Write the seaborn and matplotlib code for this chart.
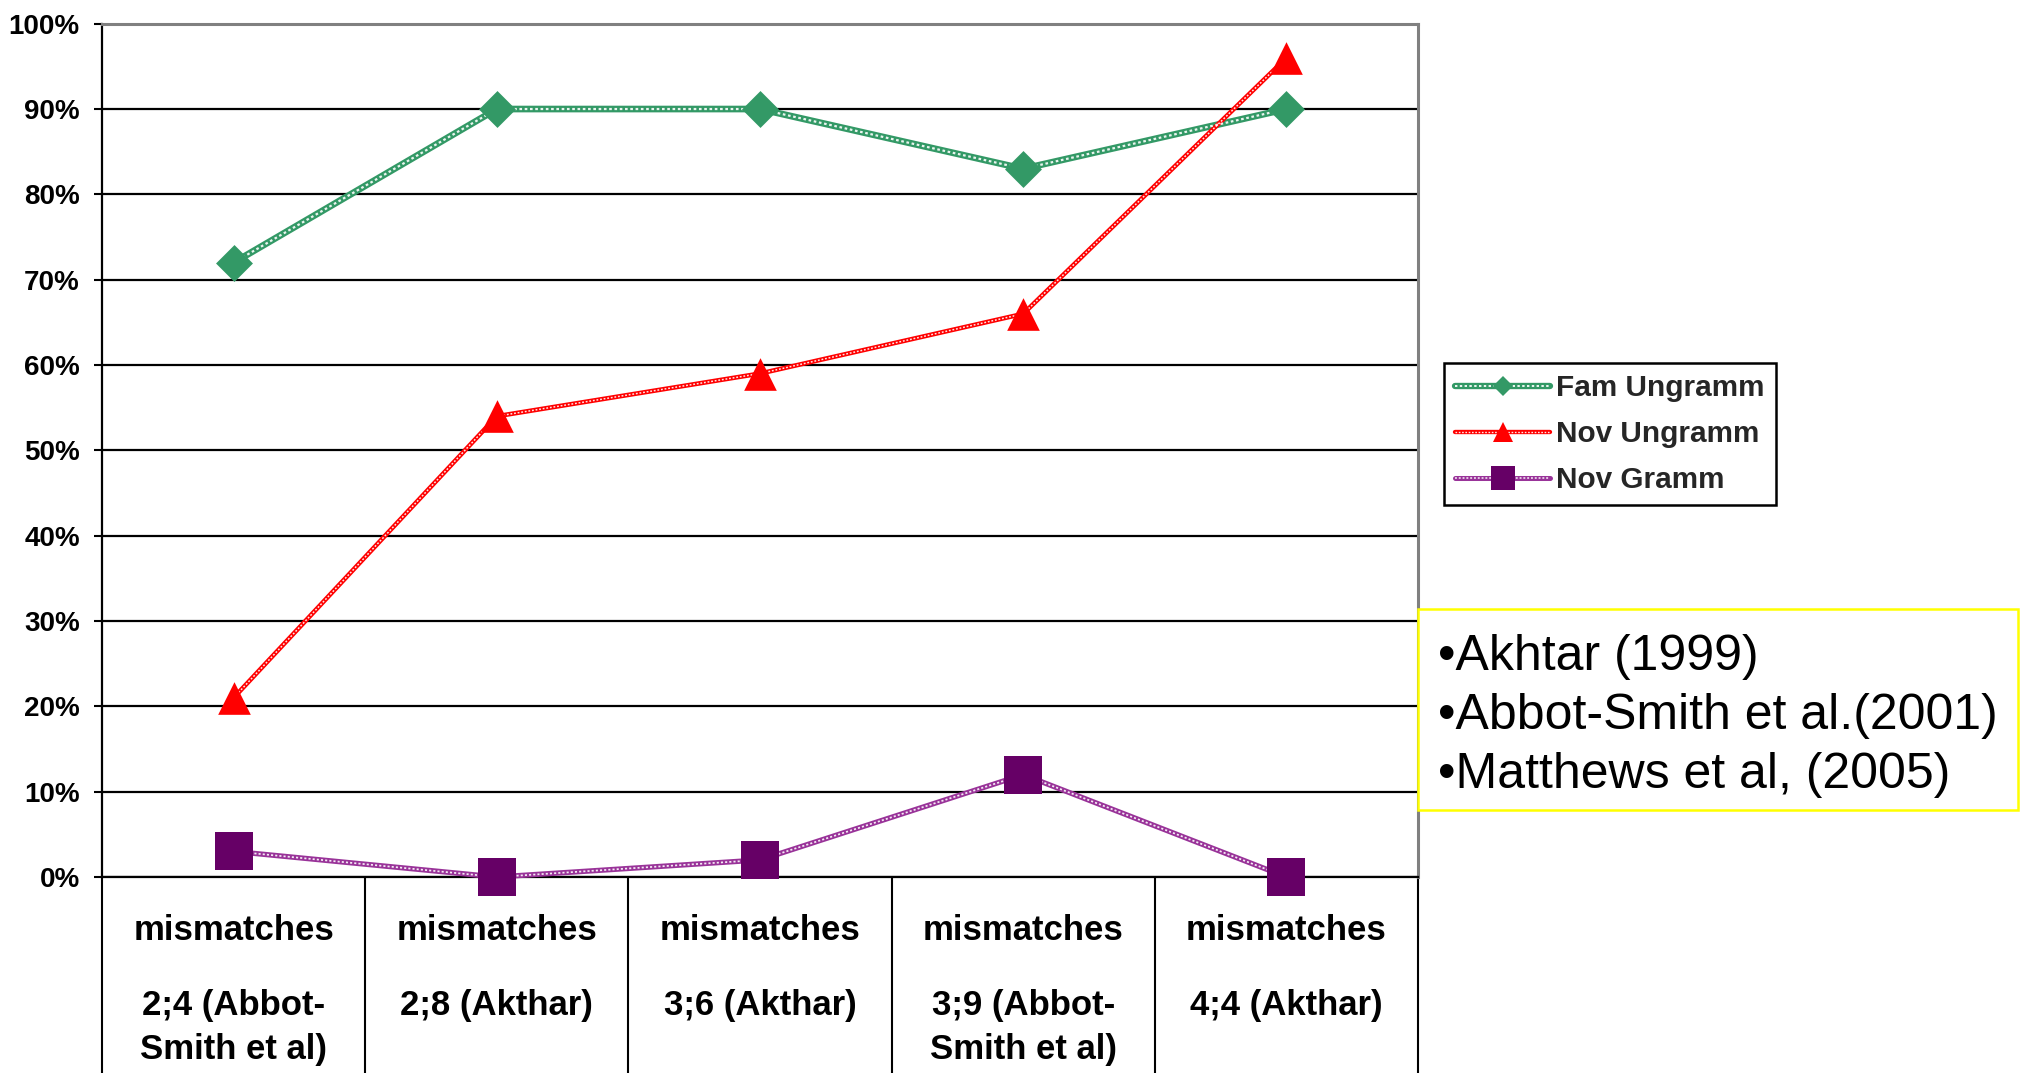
import numpy as np
import pandas as pd
import matplotlib
matplotlib.use("Agg")
import matplotlib.pyplot as plt
import seaborn as sns
from matplotlib.lines import Line2D
from matplotlib.patches import Rectangle
from matplotlib.legend_handler import HandlerTuple

# ---------------- data ----------------
categories = [
    "mismatches\n2;4 (Abbot-\nSmith et al)",
    "mismatches\n2;8 (Akthar)",
    "mismatches\n3;6 (Akthar)",
    "mismatches\n3;9 (Abbot-\nSmith et al)",
    "mismatches\n4;4 (Akthar)",
]
series_names = ["Fam Ungramm", "Nov Ungramm", "Nov Gramm"]
fam_ungramm = [72, 90, 90, 83, 90]
nov_ungramm = [21, 54, 59, 66, 96]
nov_gramm = [3, 0, 2, 12, 0]
y_ticks = [0, 10, 20, 30, 40, 50, 60, 70, 80, 90, 100]
y_tick_labels = ["0%", "10%", "20%", "30%", "40%", "50%", "60%", "70%", "80%", "90%", "100%"]
references = ["•Akhtar (1999)", "•Abbot-Smith et al.(2001)", "•Matthews et al, (2005)"]

# ---------------- style ----------------
sns.set_theme(style="white")
plt.rcParams['font.family'] = ['Liberation Sans', 'DejaVu Sans']

W, H = 2022, 1073
fig = plt.figure(figsize=(W / 100, H / 100), dpi=100)
fig.patch.set_facecolor("white")
ax_left, ax_right, ax_top, ax_bot = 102, 1418, 23.7, 877
ax = fig.add_axes([ax_left / W, 1 - ax_bot / H, (ax_right - ax_left) / W, (ax_bot - ax_top) / H])
ax.set_facecolor("white")

pos = np.arange(len(categories))
df = pd.DataFrame({
    "pos": np.tile(pos, 3),
    "value": fam_ungramm + nov_ungramm + nov_gramm,
    "series": np.repeat(series_names, len(categories)),
})

styles = {
    "Fam Ungramm": dict(line="#339966", mc="#339966", marker="D", lw=4.8, ms=18.8, lms=10.5),
    "Nov Ungramm": dict(line="#FF0000", mc="#FF0000", marker="^", lw=3.3, ms=23.5, lms=14.5),
    "Nov Gramm": dict(line="#993399", mc="#660066", marker="s", lw=3.8, ms=27, lms=17),
}

handles = []
for name in series_names:
    sub = df[df["series"] == name]
    st = styles[name]
    sns.lineplot(data=sub, x="pos", y="value", color=st["line"], linewidth=st["lw"],
                 ax=ax, zorder=3, legend=False, clip_on=False)
    sns.lineplot(data=sub, x="pos", y="value", color="white", linewidth=st["lw"] * 0.33,
                 linestyle=(0, (1.2, 1.2)), ax=ax, zorder=3.1, legend=False, clip_on=False, alpha=0.9)
for name in series_names:
    sub = df[df["series"] == name]
    st = styles[name]
    sns.scatterplot(data=sub, x="pos", y="value", marker=st["marker"], s=st["ms"] ** 2,
                    color=st["mc"], edgecolor=st["mc"], linewidth=0, ax=ax, zorder=4,
                    legend=False, clip_on=False)
    h_line = Line2D([], [], color=st["line"], lw=st["lw"] * 0.95)
    h_dots = Line2D([], [], color="white", lw=st["lw"] * 0.3, linestyle=(0, (1.2, 1.2)), alpha=0.9)
    h_mark = Line2D([], [], linestyle="none", marker=st["marker"], markersize=st["lms"],
                    color=st["mc"], markeredgewidth=0)
    handles.append((h_line, h_dots, h_mark))

# ---------------- axes ----------------
ax.set_xlim(-0.5, len(categories) - 0.5)
ax.set_ylim(0, 100)
ax.set_xlabel("")
ax.set_ylabel("")
ax.set_yticks(y_ticks, labels=y_tick_labels, fontweight="bold", fontsize=20)
ax.set_xticks(pos, labels=[""] * len(pos))
ax.set_xticks(np.arange(len(categories) + 1) - 0.5, minor=True)
ax.tick_params(axis="x", which="major", length=0, bottom=True)
ax.tick_params(axis="x", which="minor", direction="out", length=141, width=1.5,
               color="black", bottom=True)
ax.tick_params(axis="y", which="major", direction="out", length=6, width=1.5,
               color="black", left=True, pad=10, labelcolor="black")
ax.set_axisbelow(True)
ax.yaxis.grid(True, color="black", linewidth=1.6)
ax.xaxis.grid(False)
for side in ["left", "bottom"]:
    ax.spines[side].set_color("black")
    ax.spines[side].set_linewidth(1.6)
for side in ["top", "right"]:
    ax.spines[side].set_color("#808080")
    ax.spines[side].set_linewidth(2.2)
for s in ax.spines.values():
    s.set_visible(True)

# category labels
line_y = [-0.0738, -0.1617, -0.2133]
for i, cat in enumerate(categories):
    for j, ln in enumerate(cat.split("\n")):
        ax.text(pos[i], line_y[j], ln, transform=ax.get_xaxis_transform(),
                ha="center", va="baseline", fontsize=25, fontweight="bold", color="black")

# ---------------- legend ----------------
leg = ax.legend(handles, series_names, loc="upper left",
                bbox_to_anchor=(1444 / W, 1 - 363 / H), bbox_transform=fig.transFigure,
                frameon=True, fancybox=False, framealpha=1, edgecolor="black",
                borderaxespad=0, prop=dict(weight="bold", size=21.4),
                handlelength=3.2, handletextpad=0.2, labelspacing=0.6, borderpad=0.38,
                numpoints=1, handler_map={tuple: HandlerTuple(ndivide=1)})
leg.get_frame().set_linewidth(1.8)

# ---------------- reference box ----------------
box = Rectangle((1418 / W, 1 - 810 / H), 600 / W, 201 / H, transform=fig.transFigure,
                facecolor="white", edgecolor="#FFFF00", linewidth=1.8)
fig.add_artist(box)
for ref, yb in zip(references, [670, 729, 788]):
    fig.text(1438 / W, 1 - yb / H, ref, ha="left", va="baseline", fontsize=36, color="black")

fig.savefig("out.png", dpi=100)
